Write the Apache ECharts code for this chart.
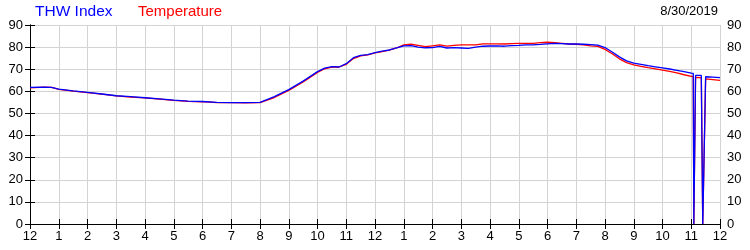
<!DOCTYPE html>
<html>
<head>
<meta charset="utf-8">
<script src="https://cdn.jsdelivr.net/npm/echarts@6/dist/echarts.min.js"></script>
<style>html,body{margin:0;padding:0;background:#fff}#c{width:750px;height:250px}</style>
</head>
<body>
<div id="c"></div>
<script>
const hours = [0,0.5,0.75,1,1.5,2,2.5,3,3.5,4,4.5,5,5.5,6,6.5,7,7.5,8,8.5,9,9.5,10,10.25,10.5,10.75,11,11.25,11.5,11.75,12,12.25,12.5,12.75,13,13.25,13.5,13.75,14,14.25,14.5,14.75,15,15.25,15.5,15.75,16,16.25,16.5,16.75,17,17.25,17.5,17.75,18,18.25,18.5,18.75,19,19.25,19.5,19.75,20,20.25,20.5,20.75,21,21.25,21.5,21.75,22,22.25,22.5,22.75,23,23.07,23.09,23.15,23.35,23.40,23.50,23.75,24];
const thwIndex = [61.8,61.9,61.8,61.0,60.2,59.5,58.8,58.0,57.6,57.1,56.6,56.0,55.6,55.4,55.0,54.9,54.9,55.0,57.6,60.8,64.6,68.9,70.5,71.2,71.0,72.5,75.2,76.3,76.6,77.5,78.2,78.7,79.6,80.6,80.7,80.0,79.7,79.8,80.3,79.6,79.8,79.6,79.4,80.0,80.4,80.5,80.6,80.4,80.7,80.8,81.0,81.0,81.2,81.5,81.7,81.6,81.4,81.4,81.3,81.1,80.9,79.8,77.8,75.6,73.8,72.8,72.2,71.6,71.1,70.6,70.1,69.5,68.9,68.2,68.1,0,67.2,67.2,0,66.6,66.4,66.2];
const temperature = [61.6,61.9,61.8,60.9,60.1,59.4,58.7,57.9,57.4,57.0,56.5,55.9,55.5,55.3,54.9,54.9,54.8,54.9,57.2,60.4,64.2,68.5,70.2,71.0,71.0,72.2,74.8,76.0,76.5,77.4,78.0,78.6,79.6,81.0,81.3,80.8,80.2,80.6,81.0,80.4,80.8,81.0,81.0,81.0,81.5,81.5,81.5,81.4,81.6,81.7,81.7,81.7,82.0,82.2,82.0,81.7,81.4,81.3,81.0,80.6,80.3,79.0,77.0,74.7,73.0,72.0,71.3,70.7,70.2,69.6,69.0,68.3,67.5,66.8,66.7,0,66.3,66.2,0,65.6,65.3,65.0];
const yTicks = [0,10,20,30,40,50,60,70,80,90];
const titleTexts = ['THW Index','Temperature'];
const dateText = '8/30/2019';

const chart = echarts.init(document.getElementById('c'), null, {renderer:'canvas'});
const font = 'Liberation Sans, Arial, sans-serif';
const hourLabel = v => { const h = Math.round(v) % 12; return String(h === 0 ? 12 : h); };
const axisCommon = {
  axisLine:{show:true, lineStyle:{color:'#000', width:1}},
  axisTick:{show:true, inside:true, length:5, lineStyle:{color:'#000'}},
};
chart.setOption({
  animation:false,
  backgroundColor:'#fff',
  grid:{left:30, right:30, top:25, bottom:26, containLabel:false},
  xAxis:[
    Object.assign({type:'value', min:0, max:24, interval:1, position:'bottom',
      axisLabel:{color:'#000', fontFamily:font, fontSize:13, margin:6, formatter:hourLabel},
      splitLine:{show:true, lineStyle:{color:'#d3d3d3', width:1}}}, axisCommon),
    Object.assign({type:'value', min:0, max:24, interval:1, position:'top',
      axisLabel:{show:false}, splitLine:{show:false}}, axisCommon)
  ],
  yAxis:[
    Object.assign({type:'value', min:yTicks[0], max:yTicks[yTicks.length-1], interval:10, position:'left',
      axisLabel:{color:'#000', fontFamily:font, fontSize:13, margin:7},
      splitLine:{show:true, lineStyle:{color:'#d3d3d3', width:1}}}, axisCommon),
    Object.assign({type:'value', min:yTicks[0], max:yTicks[yTicks.length-1], interval:10, position:'right',
      axisLabel:{color:'#000', fontFamily:font, fontSize:13, margin:7},
      splitLine:{show:false}}, axisCommon)
  ],
  graphic:[
    {type:'text', left:35, top:4, style:{text:titleTexts[0], fill:'#0000ff', font:'15.5px '+font}},
    {type:'text', left:138, top:4, style:{text:titleTexts[1], fill:'#ff0000', font:'15px '+font}},
    {type:'text', right:32, top:5, style:{text:dateText, fill:'#000', font:'13px '+font}}
  ],
  series:[
    {name:titleTexts[1], type:'line', showSymbol:false, symbol:'none', xAxisIndex:0, yAxisIndex:0,
      lineStyle:{color:'#ff0000', width:1.3}, data:hours.map((h,i)=>[h, temperature[i]]), z:2},
    {name:titleTexts[0], type:'line', showSymbol:false, symbol:'none', xAxisIndex:0, yAxisIndex:0,
      lineStyle:{color:'#0000ff', width:1.3}, data:hours.map((h,i)=>[h, thwIndex[i]]), z:3}
  ]
});
</script>
</body>
</html>
